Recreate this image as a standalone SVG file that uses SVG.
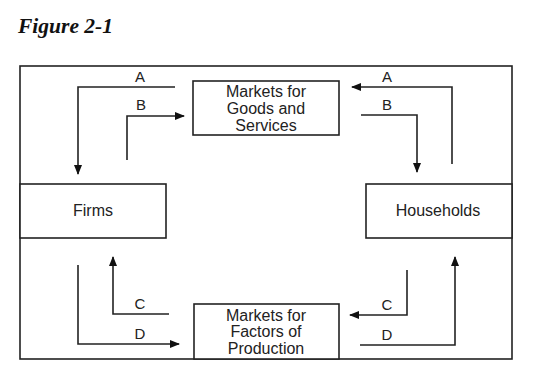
<svg xmlns="http://www.w3.org/2000/svg" width="544" height="368" viewBox="0 0 544 368">
<defs>
<marker id="ah" markerWidth="10" markerHeight="8" refX="9" refY="4" orient="auto" markerUnits="userSpaceOnUse">
<path d="M0,0 L10,4 L0,8 Z" fill="#111"/>
</marker>
<style>
.box{fill:#fff;stroke:#222;stroke-width:1.6}
.t{font-family:"Liberation Sans",Arial,sans-serif;font-size:16px;fill:#222;text-anchor:middle}
.l{font-family:"Liberation Sans",Arial,sans-serif;font-size:15px;fill:#222;text-anchor:middle}
.c{fill:none;stroke:#222;stroke-width:1.6;marker-end:url(#ah)}
</style>
</defs>
<rect width="544" height="368" fill="#fff"/>
<text x="18" y="33" font-family="'Liberation Serif','Times New Roman',serif" font-size="21.5" font-weight="bold" font-style="italic" fill="#111">Figure 2-1</text>
<rect id="frame" x="20" y="66" width="492" height="293" fill="none" stroke="#222" stroke-width="1.6"/>
<g id="goods"><rect class="box" x="193" y="81" width="146" height="54"/>
<text class="t" x="266" y="97">Markets for</text><text class="t" x="266" y="114">Goods and</text><text class="t" x="266" y="131">Services</text></g>
<g id="factors"><rect class="box" x="194" y="304" width="145" height="55"/>
<text class="t" x="266" y="321">Markets for</text><text class="t" x="266" y="337">Factors of</text><text class="t" x="266" y="354">Production</text></g>
<g id="firms"><rect class="box" x="20" y="184" width="146" height="54"/><text class="t" x="93" y="216">Firms</text></g>
<g id="households"><rect class="box" x="366" y="184" width="146" height="54"/><text class="t" x="438" y="216">Households</text></g>
<g id="connectors">
<path class="c" d="M175,87 H78 V174"/>
<path class="c" d="M127,160 V116 H184"/>
<path class="c" d="M452,164 V87 H352"/>
<path class="c" d="M361,115 H417 V172"/>
<path class="c" d="M169,314 H113 V257"/>
<path class="c" d="M78,265 V344 H179"/>
<path class="c" d="M407,270 V315 H350"/>
<path class="c" d="M360,345 H455 V257"/>
<text class="l" x="140" y="82">A</text><text class="l" x="141" y="110">B</text>
<text class="l" x="387" y="82">A</text><text class="l" x="387" y="110">B</text>
<text class="l" x="140" y="309">C</text><text class="l" x="140" y="339">D</text>
<text class="l" x="387" y="310">C</text><text class="l" x="387" y="340">D</text>
</g>
</svg>
